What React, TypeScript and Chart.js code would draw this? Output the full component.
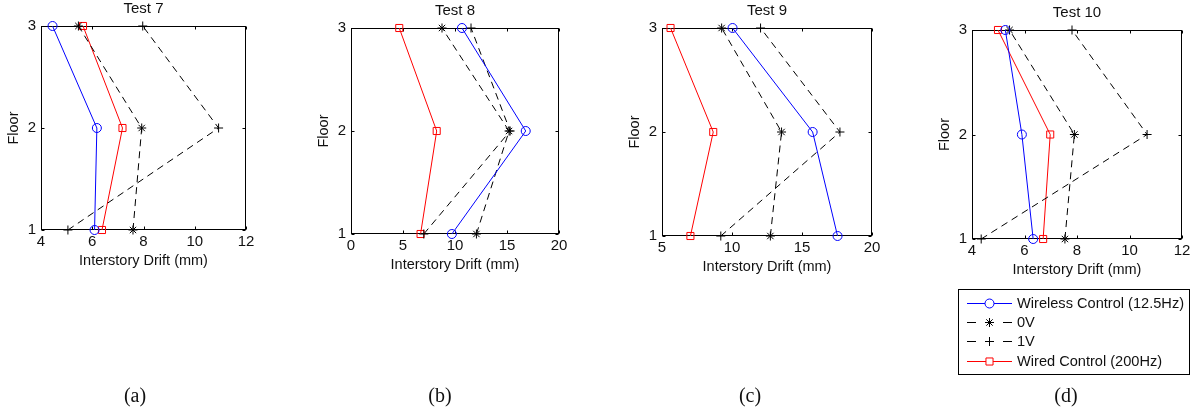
import React, { useEffect, useRef } from 'react';
import { Chart, registerables } from 'chart.js';
import { drawPoint } from 'chart.js/helpers';

Chart.register(...registerables);

// ---------- data ----------
const floors = [1, 2, 3];
const panelTitles = ['Test 7', 'Test 8', 'Test 9', 'Test 10'];
const captions = ['(a)', '(b)', '(c)', '(d)'];
const seriesLabels = ['Wireless Control (12.5Hz)', '0V', '1V', 'Wired Control (200Hz)'];
const xAxisTitle = 'Interstory Drift (mm)';
const yAxisTitle = 'Floor';

// values listed for floor 1, floor 2, floor 3
const test7Wireless = [6.09, 6.18, 4.45];
const test7ZeroV = [7.59, 7.93, 5.46];
const test7OneV = [5.05, 10.93, 7.97];
const test7Wired = [6.38, 7.18, 5.64];

const test8Wireless = [9.7, 16.8, 10.67];
const test8ZeroV = [12.06, 15.2, 8.75];
const test8OneV = [7.0, 15.3, 11.54];
const test8Wired = [6.69, 8.24, 4.64];

const test9Wireless = [17.54, 15.76, 10.04];
const test9ZeroV = [12.74, 13.54, 9.26];
const test9OneV = [9.2, 17.71, 12.04];
const test9Wired = [7.03, 8.66, 5.61];

const test10Wireless = [6.33, 5.9, 5.27];
const test10ZeroV = [7.54, 7.9, 5.43];
const test10OneV = [4.35, 10.67, 7.81];
const test10Wired = [6.71, 6.98, 4.99];

const xMins = [4, 0, 5, 4];
const xMaxs = [12, 20, 20, 12];
const xSteps = [2, 5, 5, 2];
const yMin = 1;
const yMax = 3;

const panelSeries = [
  [test7Wireless, test7ZeroV, test7OneV, test7Wired],
  [test8Wireless, test8ZeroV, test8OneV, test8Wired],
  [test9Wireless, test9ZeroV, test9OneV, test9Wired],
  [test10Wireless, test10ZeroV, test10OneV, test10Wired],
];

// ---------- styles / layout ----------
const W = 1194;
const H = 413;
const FONT = "'Liberation Sans', Arial, Helvetica, sans-serif";
const TEXT = '#111';
const boxes = [
  { l: 41, r: 246, t: 26, b: 230 },
  { l: 351, r: 559, t: 28, b: 234 },
  { l: 662, r: 872, t: 28, b: 236 },
  { l: 972, r: 1182, t: 30, b: 239 },
];
const captionX = [135, 440, 750, 1066];
const captionY = 395;
const YW = 40;
const XH = 40;

const seriesStyles = [
  { color: '#0000ff', pointStyle: 'circle', radius: 4.5, dash: [] as number[] },
  { color: '#000000', pointStyle: 'star', radius: 4.5, dash: [7, 5] },
  { color: '#000000', pointStyle: 'cross', radius: 4.5, dash: [7, 5] },
  { color: '#ff0000', pointStyle: 'rect', radius: 5, dash: [] as number[] },
];

const legendBox = { l: 958, t: 289, r: 1189, b: 374 };
const legendRows = [302.7, 322, 341.3, 360.7];

function framePlugin(title: string, withLegend: boolean) {
  return {
    id: 'frameTicks',
    beforeDatasetsDraw(chart: any) {
      const { ctx, chartArea: a, scales } = chart;
      ctx.save();
      ctx.strokeStyle = '#000';
      ctx.lineWidth = 1;
      const L = Math.round(a.left) + 0.5;
      const R = Math.round(a.right) - 0.5;
      const T = Math.round(a.top) + 0.5;
      const B = Math.round(a.bottom) - 0.5;
      ctx.strokeRect(L, T, R - L, B - T);
      const tl = 3;
      ctx.beginPath();
      scales.x.ticks.forEach((t: any) => {
        const px = Math.round(scales.x.getPixelForValue(t.value)) + 0.5;
        ctx.moveTo(px, B);
        ctx.lineTo(px, B - tl);
        ctx.moveTo(px, T);
        ctx.lineTo(px, T + tl);
      });
      scales.y.ticks.forEach((t: any) => {
        const py = Math.round(scales.y.getPixelForValue(t.value)) + 0.5;
        ctx.moveTo(L, py);
        ctx.lineTo(L + tl, py);
        ctx.moveTo(R, py);
        ctx.lineTo(R - tl, py);
      });
      ctx.stroke();
      ctx.fillStyle = TEXT;
      ctx.font = `15px ${FONT}`;
      ctx.textAlign = 'center';
      ctx.textBaseline = 'middle';
      ctx.fillText(title, (a.left + a.right) / 2, a.top - 17);
      ctx.restore();
    },
    afterDraw(chart: any) {
      if (!withLegend) return;
      const { ctx } = chart;
      ctx.save();
      ctx.fillStyle = '#fff';
      ctx.fillRect(legendBox.l, legendBox.t, legendBox.r - legendBox.l, legendBox.b - legendBox.t);
      ctx.strokeStyle = '#000';
      ctx.lineWidth = 1;
      ctx.strokeRect(legendBox.l + 0.5, legendBox.t + 0.5, legendBox.r - legendBox.l, legendBox.b - legendBox.t);
      chart.data.datasets.forEach((ds: any, i: number) => {
        const y = Math.round(legendRows[i]) + 0.5;
        const x0 = 967;
        const x1 = 1012;
        ctx.strokeStyle = ds.borderColor;
        ctx.lineWidth = 1;
        ctx.beginPath();
        if (ds.borderDash && ds.borderDash.length) {
          ctx.moveTo(x0, y);
          ctx.lineTo(x0 + 9, y);
          ctx.moveTo(x1 - 9, y);
          ctx.lineTo(x1, y);
        } else {
          ctx.moveTo(x0, y);
          ctx.lineTo(x1, y);
        }
        ctx.stroke();
        ctx.fillStyle = '#fff';
        drawPoint(ctx, { pointStyle: ds.pointStyle, radius: ds.pointRadius, borderWidth: 1, rotation: 0 }, (x0 + x1) / 2, y);
        ctx.fillStyle = TEXT;
        ctx.font = `14.6px ${FONT}`;
        ctx.textAlign = 'left';
        ctx.textBaseline = 'middle';
        ctx.fillText(ds.label, 1017, y);
      });
      ctx.restore();
    },
  };
}

function Panel({ idx }: { idx: number }) {
  const ref = useRef<HTMLCanvasElement>(null);
  useEffect(() => {
    const canvas = ref.current;
    if (!canvas) return;
    const box = boxes[idx];
    const datasets = panelSeries[idx].map((vals, si) => {
      const st = seriesStyles[si];
      return {
        label: seriesLabels[si],
        data: floors.map((f, k) => ({ x: vals[k], y: f })),
        showLine: true,
        borderColor: st.color,
        backgroundColor: 'rgba(0,0,0,0)',
        borderWidth: 1,
        borderDash: st.dash,
        pointStyle: st.pointStyle,
        pointRadius: st.radius,
        pointBorderColor: st.color,
        pointBackgroundColor: 'rgba(0,0,0,0)',
        pointBorderWidth: 1,
        fill: false,
        tension: 0,
        clip: false as any,
      };
    });
    const chart = new Chart(canvas, {
      type: 'scatter',
      data: { datasets: datasets as any },
      options: {
        responsive: false,
        animation: false,
        devicePixelRatio: 1,
        events: [],
        layout: {
          padding: {
            left: box.l - YW,
            right: W - box.r,
            top: box.t,
            bottom: H - box.b - XH,
          },
        },
        plugins: {
          legend: { display: false },
          tooltip: { enabled: false },
          title: { display: false },
        },
        scales: {
          x: {
            type: 'linear',
            min: xMins[idx],
            max: xMaxs[idx],
            grid: { display: false, drawTicks: false },
            border: { display: false },
            ticks: {
              stepSize: xSteps[idx],
              padding: 3,
              color: TEXT,
              font: { family: FONT, size: 15 },
              maxRotation: 0,
            },
            title: {
              display: true,
              text: xAxisTitle,
              color: TEXT,
              font: { family: FONT, size: 14.5 },
              padding: { top: 0, bottom: 0 },
            },
            afterFit: (s: any) => {
              s.height = XH;
            },
          },
          y: {
            type: 'linear',
            min: yMin,
            max: yMax,
            grid: { display: false, drawTicks: false },
            border: { display: false },
            ticks: {
              stepSize: 1,
              padding: 5,
              color: TEXT,
              font: { family: FONT, size: 15 },
            },
            title: {
              display: true,
              text: yAxisTitle,
              color: TEXT,
              font: { family: FONT, size: 14.5 },
              padding: { top: 4, bottom: 4 },
            },
            afterFit: (s: any) => {
              s.width = YW;
            },
          },
        },
      },
      plugins: [framePlugin(panelTitles[idx], idx === 3)],
    });
    return () => chart.destroy();
  }, [idx]);
  return (
    <canvas
      ref={ref}
      width={W}
      height={H}
      style={{ position: 'absolute', left: 0, top: 0, width: W, height: H }}
    />
  );
}

export default function App() {
  return (
    <div
      style={{
        position: 'fixed',
        left: 0,
        top: 0,
        width: W,
        height: H,
        background: '#fff',
        overflow: 'hidden',
      }}
    >
      {[0, 1, 2, 3].map((i) => (
        <Panel key={i} idx={i} />
      ))}
      {captions.map((c, i) => (
        <div
          key={c}
          style={{
            position: 'absolute',
            left: captionX[i] - 30,
            width: 60,
            top: captionY - 12,
            height: 24,
            lineHeight: '24px',
            textAlign: 'center',
            fontFamily: "'Liberation Serif', 'Times New Roman', serif",
            fontSize: 20,
            color: '#111',
          }}
        >
          {c}
        </div>
      ))}
    </div>
  );
}
